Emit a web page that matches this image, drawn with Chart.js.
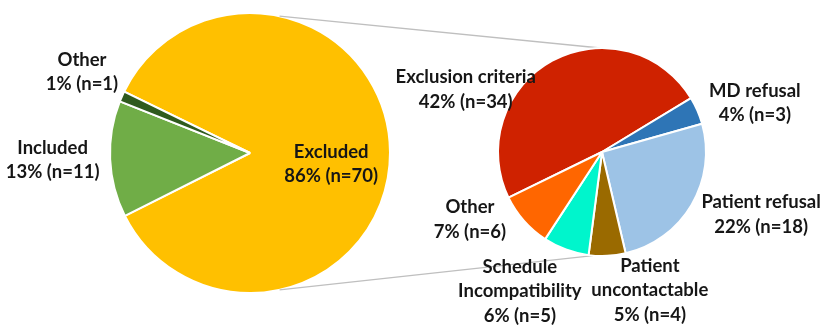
<!DOCTYPE html>
<html>
<head>
<meta charset="utf-8">
<script src="https://cdn.jsdelivr.net/npm/chart.js@4.4.1/dist/chart.umd.min.js"></script>
<style>
  html, body { margin: 0; padding: 0; background: #fff; }
  #wrap { position: relative; width: 829px; height: 335px; }
  .layer { position: absolute; left: 0; top: 0; width: 829px; height: 335px; }
</style>
</head>
<body>
<div id="wrap">
  <div class="layer"><canvas id="mainPie" width="829" height="335"></canvas></div>
  <div class="layer"><canvas id="subPie" width="829" height="335"></canvas></div>
</div>
<script>
// Main pie: screening outcome
const mainLabels = ['Excluded', 'Included', 'Other'];
const mainCounts = [70, 11, 1];
const mainPct = [86, 13, 1];
const mainColors = ['#FFC000', '#70AD47', '#2F5A1E'];

// Secondary pie: breakdown of excluded
const subLabels = ['Exclusion criteria', 'MD refusal', 'Patient refusal', 'Patient uncontactable', 'Schedule Incompatibility', 'Other'];
const subCounts = [34, 3, 18, 4, 5, 6];
const subPct = [42, 4, 22, 5, 6, 7];
const subColors = ['#CF2200', '#2E75B6', '#9DC3E6', '#9A6A00', '#00F5CC', '#FF6600'];

// how each label is broken into lines
const mainLines = [['Excluded'], ['Included'], ['Other']];
const subLines = [['Exclusion criteria'], ['MD refusal'], ['Patient refusal'], ['Patient', 'uncontactable'], ['Schedule', 'Incompatibility'], ['Other']];

// label anchor (centre of text block) relative to pie centre, in units of radius
const mainLabelPos = [[0.58, 0.08], [-1.41, 0.05], [-1.20, -0.58]];
const subLabelPos = [[-1.31, -0.60], [1.47, -0.47], [1.53, 0.60], [0.46, 1.33], [-0.79, 1.34], [-1.27, 0.65]];

const FONT = 'bold 18.5px Lato, "Open Sans", sans-serif';
const LINE_H = 24.5;

function labelPlugin(lines, counts, pct, pos) {
  return {
    id: 'pieLabels',
    afterDatasetsDraw(chart) {
      const ctx = chart.ctx;
      const arc = chart.getDatasetMeta(0).data[0];
      const cx = arc.x, cy = arc.y, r = arc.outerRadius;
      ctx.save();
      ctx.font = FONT;
      ctx.fillStyle = '#161616';
      ctx.textAlign = 'center';
      ctx.textBaseline = 'middle';
      lines.forEach((ls, i) => {
        const all = ls.concat([pct[i] + '% (n=' + counts[i] + ')']);
        const x = cx + pos[i][0] * r;
        const y0 = cy + pos[i][1] * r - (all.length - 1) * LINE_H / 2;
        all.forEach((t, j) => ctx.fillText(t, x, y0 + j * LINE_H));
      });
      ctx.restore();
    }
  };
}

const mainChart = new Chart(document.getElementById('mainPie'), {
  type: 'pie',
  data: {
    labels: mainLabels,
    datasets: [{
      data: mainCounts,
      backgroundColor: mainColors,
      borderColor: '#ffffff',
      borderWidth: 2
    }]
  },
  options: {
    responsive: false,
    animation: false,
    rotation: 296,
    radius: 140,
    layout: { padding: { left: 0, right: 329, top: 0, bottom: 29 } },
    plugins: { legend: { display: false }, tooltip: { enabled: false } }
  },
  plugins: [labelPlugin(mainLines, mainCounts, mainPct, mainLabelPos)]
});

// connector lines from the main pie to the secondary pie
const connectorPlugin = {
  id: 'connectors',
  beforeDatasetsDraw(chart) {
    const a = mainChart.getDatasetMeta(0).data[0];
    const b = chart.getDatasetMeta(0).data[0];
    const deg = Math.PI / 180;
    const pairs = [[-77.8, -91], [77.8, 95]];
    const ctx = chart.ctx;
    ctx.save();
    ctx.strokeStyle = '#BFBFBF';
    ctx.lineWidth = 1.3;
    pairs.forEach(p => {
      ctx.beginPath();
      ctx.moveTo(a.x + a.outerRadius * Math.cos(p[0] * deg), a.y + a.outerRadius * Math.sin(p[0] * deg));
      ctx.lineTo(b.x + b.outerRadius * Math.cos(p[1] * deg), b.y + b.outerRadius * Math.sin(p[1] * deg));
      ctx.stroke();
    });
    ctx.restore();
  }
};

new Chart(document.getElementById('subPie'), {
  type: 'pie',
  data: {
    labels: subLabels,
    datasets: [{
      data: subCounts,
      backgroundColor: subColors,
      borderColor: '#ffffff',
      borderWidth: 2
    }]
  },
  options: {
    responsive: false,
    animation: false,
    rotation: 244,
    radius: 104,
    layout: { padding: { left: 375, right: 0, top: 0, bottom: 31 } },
    plugins: { legend: { display: false }, tooltip: { enabled: false } }
  },
  plugins: [connectorPlugin, labelPlugin(subLines, subCounts, subPct, subLabelPos)]
});
</script>
</body>
</html>
